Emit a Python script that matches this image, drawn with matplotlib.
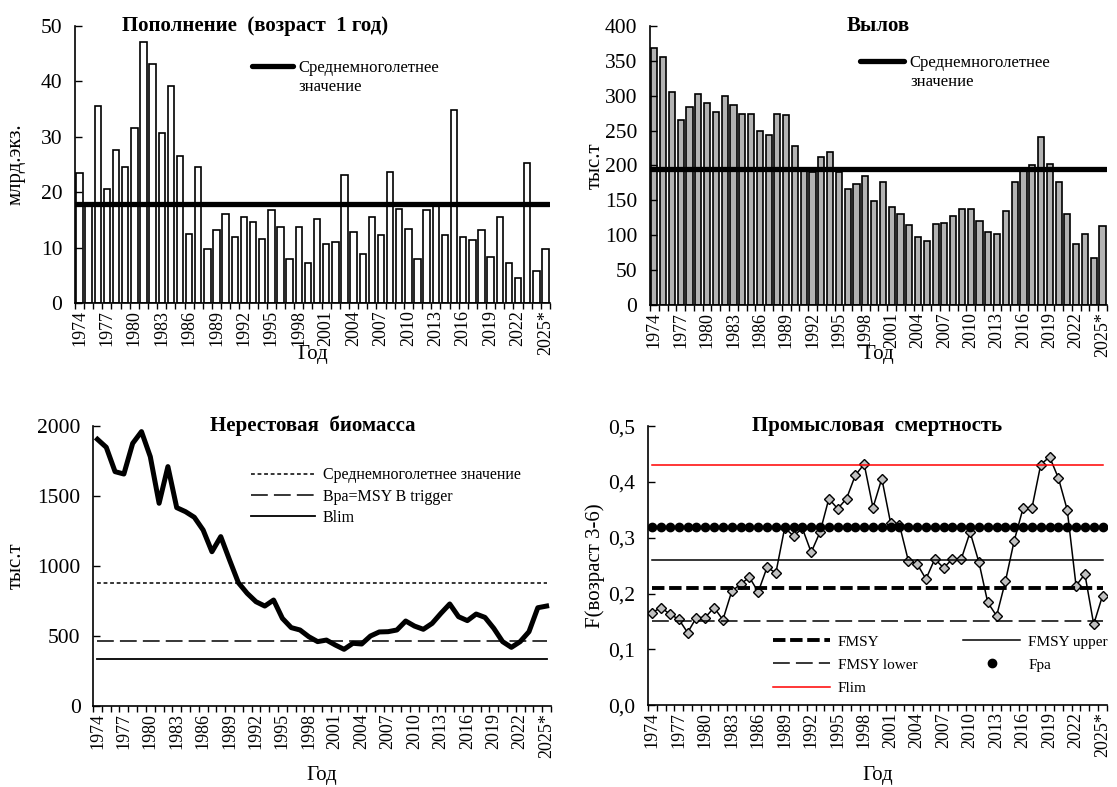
import numpy as np
import matplotlib
matplotlib.use("Agg")
import matplotlib.pyplot as plt
from matplotlib.ticker import FuncFormatter

plt.rcParams["font.family"] = ["Liberation Serif", "DejaVu Serif"]

years = list(range(1974, 2026))
year_labels = [str(y) for y in years]
year_labels[-1] = "2025*"

recruitment = [23.4, 18.0, 35.5, 20.6, 27.6, 24.6, 31.6, 47.1, 43.2, 30.7,
               39.2, 26.5, 12.5, 24.6, 9.8, 13.1, 16.1, 11.9, 15.5, 14.6,
               11.6, 16.7, 13.7, 8.0, 13.7, 7.3, 15.2, 10.7, 11.0, 23.1,
               12.8, 8.9, 15.5, 12.2, 23.7, 17.0, 13.4, 8.0, 16.7, 17.8,
               12.2, 34.9, 11.9, 11.3, 13.1, 8.3, 15.5, 7.2, 4.6, 25.2,
               5.7, 9.8]
recruitment_mean = 17.9

catch = [368, 356, 306, 265, 284, 303, 289, 277, 299, 286,
         274, 274, 250, 243, 274, 272, 228, 192, 190, 212,
         219, 190, 166, 173, 185, 149, 176, 140, 130, 114,
         97, 92, 116, 118, 128, 137, 137, 121, 104, 102,
         135, 176, 193, 200, 241, 202, 176, 130, 87, 102,
         68, 113]
catch_mean = 195

ssb = [1905, 1848, 1674, 1657, 1876, 1960, 1781, 1448, 1710, 1417,
       1388, 1348, 1257, 1102, 1210, 1043, 881, 805, 745, 714,
       757, 626, 560, 543, 495, 460, 471, 436, 405, 448,
       443, 500, 529, 531, 543, 607, 571, 548, 590, 662,
       729, 638, 610, 657, 633, 555, 460, 419, 460, 531,
       702, 714]
ssb_mean = 880
b_pa = 462
b_lim = 335

fishing_mortality = [0.166, 0.175, 0.163, 0.154, 0.130, 0.157, 0.157, 0.175, 0.153, 0.204,
                     0.217, 0.229, 0.203, 0.247, 0.237, 0.318, 0.303, 0.317, 0.274, 0.310,
                     0.370, 0.352, 0.370, 0.412, 0.432, 0.354, 0.406, 0.326, 0.323, 0.259,
                     0.253, 0.226, 0.262, 0.246, 0.262, 0.262, 0.310, 0.256, 0.184, 0.160,
                     0.222, 0.295, 0.353, 0.353, 0.431, 0.445, 0.407, 0.350, 0.214, 0.235,
                     0.145, 0.196]
f_msy = 0.21
f_msy_lower = 0.15
f_msy_upper = 0.26
f_pa = 0.32
f_lim = 0.43

n = len(years)
x = np.arange(n)

XTICK_FS = 13
YTICK_FS = 15.5
TITLE_FS = 15
LEGEND_FS = 12
LABEL_FS = 15


def style_axes(ax, ylim, ystep, ylabel, ylabel_x, xlabel_y, title, title_x):
    ax.set_xlim(-0.5, n - 0.5)
    ax.set_ylim(*ylim)
    ax.set_yticks(np.arange(ylim[0], ylim[1] + ystep / 2, ystep))
    ax.set_xticks(x[::3])
    ax.set_xticklabels(year_labels[::3], rotation=90)
    ax.set_xticks(np.arange(n + 1) - 0.5, minor=True)
    ax.tick_params(axis="x", which="major", length=0, pad=5, labelsize=XTICK_FS)
    ax.tick_params(axis="x", which="minor", length=4, direction="out", width=1)
    ax.tick_params(axis="y", direction="in", length=5, width=1, pad=9,
                   labelsize=YTICK_FS)
    for side in ("top", "right"):
        ax.spines[side].set_visible(False)
    for side in ("left", "bottom"):
        ax.spines[side].set_linewidth(1.2)
    ax.set_ylabel(ylabel, fontsize=LABEL_FS)
    ax.yaxis.set_label_coords(ylabel_x, 0.5)
    ax.set_xlabel("Год", fontsize=LABEL_FS)
    ax.xaxis.set_label_coords(0.5, xlabel_y)
    ax.text(title_x, 1.0, title, transform=ax.transAxes, ha="center",
            va="center", fontsize=TITLE_FS, fontweight="bold")


fig = plt.figure(figsize=(11.17, 7.87), dpi=100)

ax1 = fig.add_axes([0.0671, 0.615, 0.4253, 0.352])
ax2 = fig.add_axes([0.5819, 0.6125, 0.4091, 0.3545])
ax3 = fig.add_axes([0.0833, 0.1029, 0.41, 0.3558])
ax4 = fig.add_axes([0.580, 0.104, 0.411, 0.3545])

# recruitment
ax1.bar(x, recruitment, width=0.7, color="white", edgecolor="black", linewidth=1.2)
ax1.axhline(recruitment_mean, xmin=0.003, xmax=0.997, color="black", lw=3.8,
            solid_capstyle="round", label="Среднемноголетнее")
style_axes(ax1, (0, 50), 10, "млрд.экз.", -0.103, -0.152,
           "Пополнение  (возраст  1 год)", 0.38)
ax1.legend(loc="center left", bbox_to_anchor=(0.3726, 0.848), frameon=False,
           fontsize=LEGEND_FS, handlelength=2.46, handletextpad=0.3,
           borderaxespad=0, borderpad=0)
ax1.text(0.4695, 0.78, "значение", transform=ax1.transAxes, ha="left",
         va="center", fontsize=LEGEND_FS)

# catch
ax2.bar(x, catch, width=0.7, color="#b3b3b3", edgecolor="black", linewidth=1.2)
ax2.axhline(catch_mean, xmin=0.003, xmax=0.997, color="black", lw=3.8,
            solid_capstyle="round", label="Среднемноголетнее")
style_axes(ax2, (0, 400), 50, "тыс.т", -0.098, -0.143, "Вылов", 0.5)
ax2.legend(loc="center left", bbox_to_anchor=(0.4595, 0.867), frameon=False,
           fontsize=LEGEND_FS, handlelength=2.63, handletextpad=0.36,
           borderaxespad=0, borderpad=0)
ax2.text(0.569, 0.799, "значение", transform=ax2.transAxes, ha="left",
         va="center", fontsize=LEGEND_FS)

# spawning stock biomass
ax3.plot(x, ssb, color="black", lw=3.6, solid_joinstyle="round")
ax3.plot(x, np.full(n, ssb_mean), color="black", lw=1.1, ls=(0, (2.5, 1.8)),
         label="Среднемноголетнее значение")
ax3.plot(x, np.full(n, b_pa), color="black", lw=1.1, ls=(0, (11, 4)),
         label="Bpa=MSY B trigger")
ax3.plot(x, np.full(n, b_lim), color="black", lw=1.3, label="Blim")
style_axes(ax3, (0, 2000), 500, "тыс.т", -0.146, -0.214,
           "Нерестовая  биомасса", 0.48)
ax3.legend(loc="upper left", bbox_to_anchor=(0.345, 0.853), frameon=False,
           fontsize=LEGEND_FS - 0.5, handlelength=4.0, handletextpad=0.5,
           labelspacing=0.34, borderaxespad=0, borderpad=0)

# fishing mortality
ax4.plot(x, fishing_mortality, color="black", lw=1.1, marker="D", ms=4.8,
         mfc="#c0c0c0", mec="black", mew=1.0)
h_msy, = ax4.plot(x, np.full(n, f_msy), color="black", lw=2.8,
                  ls=(0, (3.2, 1.2)), label="FMSY")
h_low, = ax4.plot(x, np.full(n, f_msy_lower), color="black", lw=1.1,
                  ls=(0, (11, 4)), label="FMSY lower")
h_lim, = ax4.plot(x, np.full(n, f_lim), color="red", lw=1.1, label="Flim")
h_up, = ax4.plot(x, np.full(n, f_msy_upper), color="black", lw=1.1,
                 label="FMSY upper")
h_pa, = ax4.plot(x, np.full(n, f_pa), ls="none", marker="o", ms=6,
                 color="black", label="Fpa")
style_axes(ax4, (0, 0.5), 0.1, "F(возраст 3-6)", -0.094, -0.219,
           "Промысловая  смертность", 0.5)
ax4.yaxis.set_major_formatter(FuncFormatter(lambda v, p: f"{v:.1f}".replace(".", ",")))
ax4.legend(handles=[h_msy, h_low, h_lim, h_up, h_pa], ncol=2,
           loc="upper left", bbox_to_anchor=(0.272, 0.252), frameon=False,
           fontsize=LEGEND_FS - 1, handlelength=3.73, handletextpad=0.52,
           columnspacing=3.0, labelspacing=0.62, borderaxespad=0, borderpad=0)

fig.savefig("out.png", dpi=100)
